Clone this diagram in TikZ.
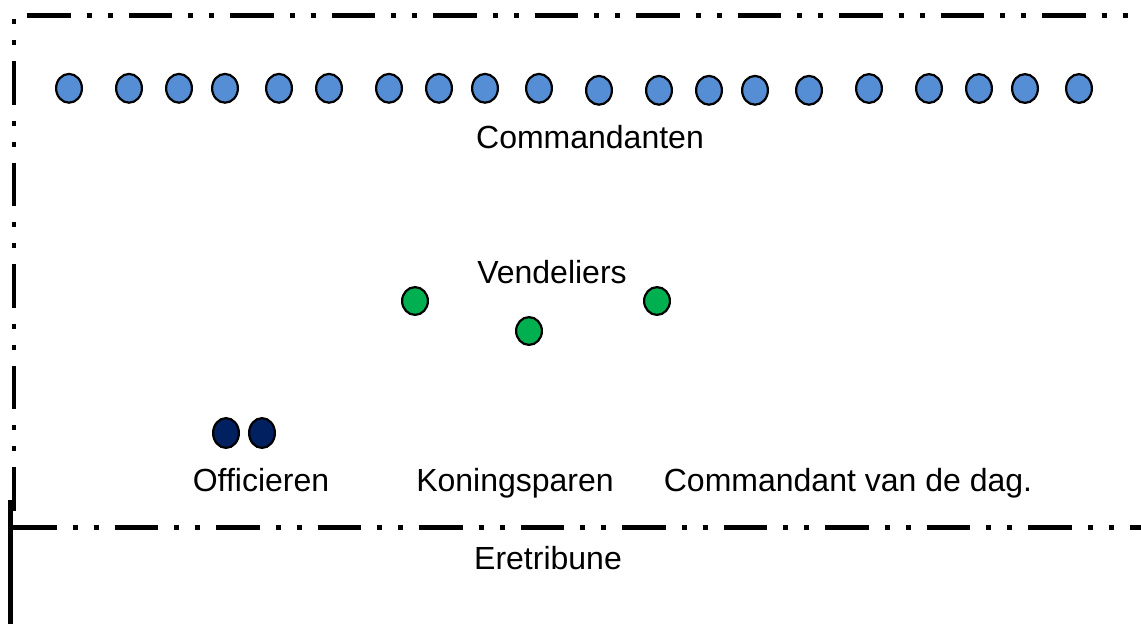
\documentclass[tikz,border=0pt]{standalone}
\usepackage{fontspec}
\setmainfont{Liberation Sans}
\usetikzlibrary{shapes.geometric}
\definecolor{cblue}{HTML}{558ED5}
\definecolor{cgreen}{HTML}{00B050}
\definecolor{cdark}{HTML}{002060}
\begin{document}
\begin{tikzpicture}[x=1pt,y=-1pt,
  pawn/.style={ellipse, draw=black, line width=2.2pt, inner sep=0pt, minimum width=25.8pt, minimum height=28.8pt},
  cmd/.style={pawn, fill=cblue},
  vnd/.style={pawn, fill=cgreen, minimum height=27.8pt},
  offc/.style={pawn, fill=cdark, minimum height=29.8pt},
  lbl/.style={font=\fontsize{32}{38}\selectfont, anchor=base, inner sep=0pt},
  border/.style={line width=4.3pt, dash pattern=on 43.5pt off 16pt on 5pt off 16pt on 5pt off 16pt}
]
\useasboundingbox (0,0) rectangle (1141,624);
% borders
\coordinate (tl) at (27,15.5);
\coordinate (tr) at (1170,15.5);
\coordinate (lt) at (13.8,19);
\coordinate (lb) at (13.8,528);
\coordinate (bl) at (13,527.5);
\coordinate (br) at (1170,527.5);
\coordinate (st) at (10.8,500);
\coordinate (sb) at (10.8,640);
\draw[border] (tl) -- (tr);
\draw[border, dash phase=59.5pt] (lt) -- (lb);
\draw[border] (bl) -- (br);
\draw[line width=4.8pt] (st) -- (sb);
% commandanten
\foreach \x [count=\i] in {69,129,179,225,279,329,389,439,485,539}
  \node[cmd] (c\i) at (\x,88.3) {};
\foreach \x [count=\i from 11] in {599,659,709,755,809}
  \node[cmd] (c\i) at (\x,90.3) {};
\foreach \x [count=\i from 16] in {869,929,979,1025,1079}
  \node[cmd] (c\i) at (\x,88.5) {};
% vendeliers
\node[vnd] (v1) at (415,301) {};
\node[vnd] (v2) at (529,331) {};
\node[vnd] (v3) at (657,301) {};
% officieren
\node[offc] (o1) at (226,433) {};
\node[offc] (o2) at (262,433) {};
% labels
\node[lbl] (lcmd) at (590,148.5) {Commandanten};
\node[lbl] (lvnd) at (552,283) {Vendeliers};
\node[lbl] (loff) at (261,491) {Officieren};
\node[lbl] (lkon) at (515,491) {Koningsparen};
\node[lbl] (ldag) at (848,491) {Commandant van de dag.};
\node[lbl] (lere) at (548,569) {Eretribune};
\end{tikzpicture}
\end{document}
